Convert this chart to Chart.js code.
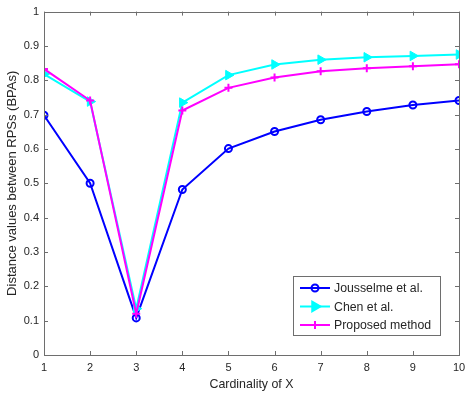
<!DOCTYPE html>
<html>
<head>
<meta charset="utf-8">
<script src="https://cdn.jsdelivr.net/npm/chart.js@4.4.0/dist/chart.umd.min.js"></script>
<style>
  html, body { margin: 0; padding: 0; background: #fff; }
  #wrap { width: 476px; height: 394px; }
</style>
</head>
<body>
<div id="wrap"><canvas id="chart"></canvas></div>
<script>
// data
const cardinality = [1, 2, 3, 4, 5, 6, 7, 8, 9, 10]
const jousselme = [0.698, 0.500, 0.108, 0.482, 0.601, 0.651, 0.685, 0.709, 0.728, 0.741]
const chen = [0.818, 0.738, 0.135, 0.735, 0.815, 0.846, 0.860, 0.867, 0.871, 0.875]
const proposed = [0.833, 0.741, 0.120, 0.712, 0.778, 0.808, 0.826, 0.835, 0.841, 0.847]
const yTicks = [0, 0.1, 0.2, 0.3, 0.4, 0.5, 0.6, 0.7, 0.8, 0.9, 1]
const xTicks = cardinality

const toPoints = (vals) => vals.map((v, i) => ({ x: cardinality[i], y: v }))

const axisColor = '#262626'
const boxColor = '#6e6e6e'
const fontFamily = "'Liberation Sans', Arial, sans-serif"

// MATLAB style box with inward ticks
const boxPlugin = {
  id: 'box',
  afterDatasetsDraw(chart) {
    const { ctx, chartArea: a, scales } = chart
    ctx.save()
    ctx.strokeStyle = boxColor
    ctx.lineWidth = 1
    ctx.strokeRect(Math.round(a.left) + 0.5, Math.round(a.top) + 0.5,
      Math.round(a.right - a.left), Math.round(a.bottom - a.top))
    const len = 4
    ctx.beginPath()
    xTicks.forEach(v => {
      const px = Math.round(scales.x.getPixelForValue(v)) + 0.5
      ctx.moveTo(px, a.bottom); ctx.lineTo(px, a.bottom - len)
      ctx.moveTo(px, a.top); ctx.lineTo(px, a.top + len)
    })
    yTicks.forEach(v => {
      const py = Math.round(scales.y.getPixelForValue(v)) + 0.5
      ctx.moveTo(a.left, py); ctx.lineTo(a.left + len, py)
      ctx.moveTo(a.right, py); ctx.lineTo(a.right - len, py)
    })
    ctx.stroke()
    ctx.restore()
  }
}

// legend box inside the plot, lower right
const legendPlugin = {
  id: 'insideLegend',
  afterDraw(chart) {
    const { ctx } = chart
    const x0 = 293, y0 = 276, w = 147, h = 59
    ctx.save()
    ctx.fillStyle = '#fff'
    ctx.fillRect(x0, y0, w, h)
    ctx.strokeStyle = boxColor
    ctx.lineWidth = 1
    ctx.strokeRect(x0 + 0.5, y0 + 0.5, w, h)
    chart.data.datasets.forEach((ds, i) => {
      const cy = y0 + 12 + i * 18.5
      ctx.strokeStyle = ds.borderColor
      ctx.lineWidth = 2
      ctx.beginPath()
      ctx.moveTo(x0 + 7, cy); ctx.lineTo(x0 + 37, cy)
      ctx.stroke()
      ctx.fillStyle = ds.pointBackgroundColor
      Chart.helpers.drawPoint(ctx, {
        pointStyle: ds.pointStyle,
        rotation: ds.pointRotation || 0,
        radius: ds.pointRadius,
        borderWidth: ds.pointBorderWidth
      }, x0 + 22, cy)
      ctx.fillStyle = axisColor
      ctx.font = '12.3px ' + fontFamily
      ctx.textBaseline = 'middle'
      ctx.textAlign = 'left'
      ctx.fillText(ds.label, x0 + 41, cy + 1)
    })
    ctx.restore()
  }
}

const ctx = document.getElementById('chart').getContext('2d')
const chart = new Chart(ctx, {
  type: 'line',
  data: {
    datasets: [
      {
        label: 'Jousselme et al.',
        data: toPoints(jousselme),
        borderColor: '#0000ff',
        backgroundColor: '#0000ff',
        borderWidth: 2,
        pointStyle: 'circle',
        pointRadius: 3.5,
        pointBorderWidth: 2,
        pointBorderColor: '#0000ff',
        pointBackgroundColor: 'rgba(0,0,0,0)',
        order: 3
      },
      {
        label: 'Chen et al.',
        data: toPoints(chen),
        borderColor: '#00ffff',
        backgroundColor: '#00ffff',
        borderWidth: 2,
        pointStyle: 'triangle',
        pointRotation: 90,
        pointRadius: 5.5,
        pointBorderWidth: 1,
        pointBorderColor: '#00ffff',
        pointBackgroundColor: '#00ffff',
        order: 2
      },
      {
        label: 'Proposed method',
        data: toPoints(proposed),
        borderColor: '#ff00ff',
        backgroundColor: '#ff00ff',
        borderWidth: 2,
        pointStyle: 'cross',
        pointRadius: 4,
        pointBorderWidth: 2,
        pointBorderColor: '#ff00ff',
        pointBackgroundColor: '#ff00ff',
        order: 1
      }
    ]
  },
  options: {
    responsive: true,
    maintainAspectRatio: false,
    animation: false,
    layout: { padding: { left: 0, right: 17, top: 11, bottom: 0 } },
    plugins: {
      legend: { display: false },
      tooltip: { enabled: false }
    },
    scales: {
      x: {
        type: 'linear',
        min: 1,
        max: 10,
        afterFit: (s) => { s.height = 39 },
        afterBuildTicks: (s) => { s.ticks = xTicks.map(v => ({ value: v })) },
        grid: { display: false, drawTicks: false },
        border: { display: false },
        ticks: {
          padding: 6,
          color: axisColor,
          font: { size: 11, family: fontFamily }
        },
        title: {
          display: true,
          text: 'Cardinality of X',
          color: axisColor,
          padding: { top: 0, bottom: 2 },
          font: { size: 12.4, family: fontFamily }
        }
      },
      y: {
        type: 'linear',
        min: 0,
        max: 1,
        afterFit: (s) => { s.width = 44 },
        afterBuildTicks: (s) => { s.ticks = yTicks.map(v => ({ value: v })) },
        grid: { display: false, drawTicks: false },
        border: { display: false },
        ticks: {
          padding: 5,
          color: axisColor,
          font: { size: 11, family: fontFamily },
          callback: (v) => String(Math.round(v * 10) / 10)
        },
        title: {
          display: true,
          text: 'Distance values between RPSs (BPAs)',
          color: axisColor,
          padding: { top: 5, bottom: 0 },
          font: { size: 13, family: fontFamily }
        }
      }
    }
  },
  plugins: [boxPlugin, legendPlugin]
})
</script>
</body>
</html>
